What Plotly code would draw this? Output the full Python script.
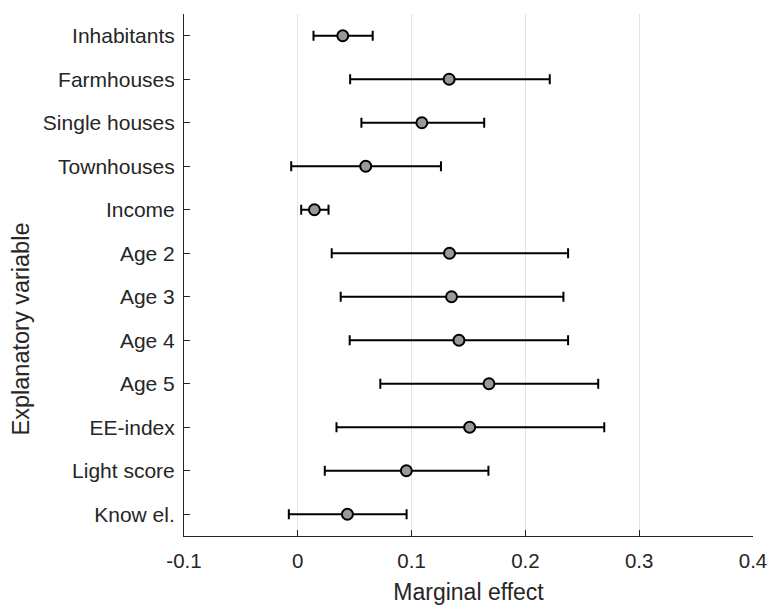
import plotly.graph_objects as go

# Explanatory variables, top to bottom
variables = ["Inhabitants", "Farmhouses", "Single houses", "Townhouses", "Income",
             "Age 2", "Age 3", "Age 4", "Age 5", "EE-index", "Light score", "Know el."]
# Marginal effect estimates with lower/upper confidence bounds
effect = [0.0395, 0.133, 0.109, 0.0597, 0.0146, 0.1333, 0.1351, 0.1416, 0.168, 0.151, 0.0954, 0.0436]
ci_low = [0.0138, 0.046, 0.0559, -0.0058, 0.003, 0.0298, 0.0377, 0.0456, 0.0725, 0.034, 0.0237, -0.0079]
ci_high = [0.0658, 0.2214, 0.1638, 0.1258, 0.027, 0.2375, 0.2334, 0.2375, 0.264, 0.2693, 0.1675, 0.0956]
x_ticks = [-0.1, 0, 0.1, 0.2, 0.3, 0.4]
x_tick_text = ["-0.1", "0", "0.1", "0.2", "0.3", "0.4"]

ink = "#262626"
font_family = "Liberation Sans, Arial, Helvetica, sans-serif"

fig = go.Figure(go.Scatter(
    x=effect,
    y=variables,
    mode="markers",
    marker=dict(size=11, color="#999999", line=dict(color="black", width=2)),
    error_x=dict(
        type="data",
        symmetric=False,
        array=[h - e for h, e in zip(ci_high, effect)],
        arrayminus=[e - l for e, l in zip(effect, ci_low)],
        color="black",
        thickness=2,
        width=5,
    ),
    showlegend=False,
))

fig.update_layout(
    width=769,
    height=605,
    margin=dict(l=184, r=16, t=14, b=69, autoexpand=False),
    paper_bgcolor="white",
    plot_bgcolor="white",
    font=dict(family=font_family, color=ink, size=20.5),
    xaxis=dict(
        range=[-0.1, 0.4],
        tickvals=x_ticks,
        ticktext=x_tick_text,
        automargin=False,
        showgrid=True,
        gridcolor="#e3e3e3",
        gridwidth=1,
        zeroline=False,
        showline=True,
        linecolor=ink,
        linewidth=1,
        ticks="inside",
        ticklen=6,
        tickcolor=ink,
        tickfont=dict(size=20.5, color=ink),
        ticklabelstandoff=6,
        title=dict(text="Marginal effect", font=dict(size=23, color=ink), standoff=24),
    ),
    yaxis=dict(
        type="category",
        categoryorder="array",
        categoryarray=variables,
        range=[11.5, -0.5],
        automargin=False,
        showgrid=False,
        zeroline=False,
        showline=True,
        linecolor=ink,
        linewidth=1,
        ticks="inside",
        ticklen=6,
        tickcolor=ink,
        tickfont=dict(size=21, color=ink),
        ticklabelstandoff=4,
    ),
    annotations=[dict(
        text="Explanatory variable",
        textangle=-90,
        xref="paper", yref="paper",
        x=-0.287, y=0.397,
        xanchor="center", yanchor="middle",
        showarrow=False,
        font=dict(size=23.5, color=ink),
    )],
)

fig.write_html("out.html")
